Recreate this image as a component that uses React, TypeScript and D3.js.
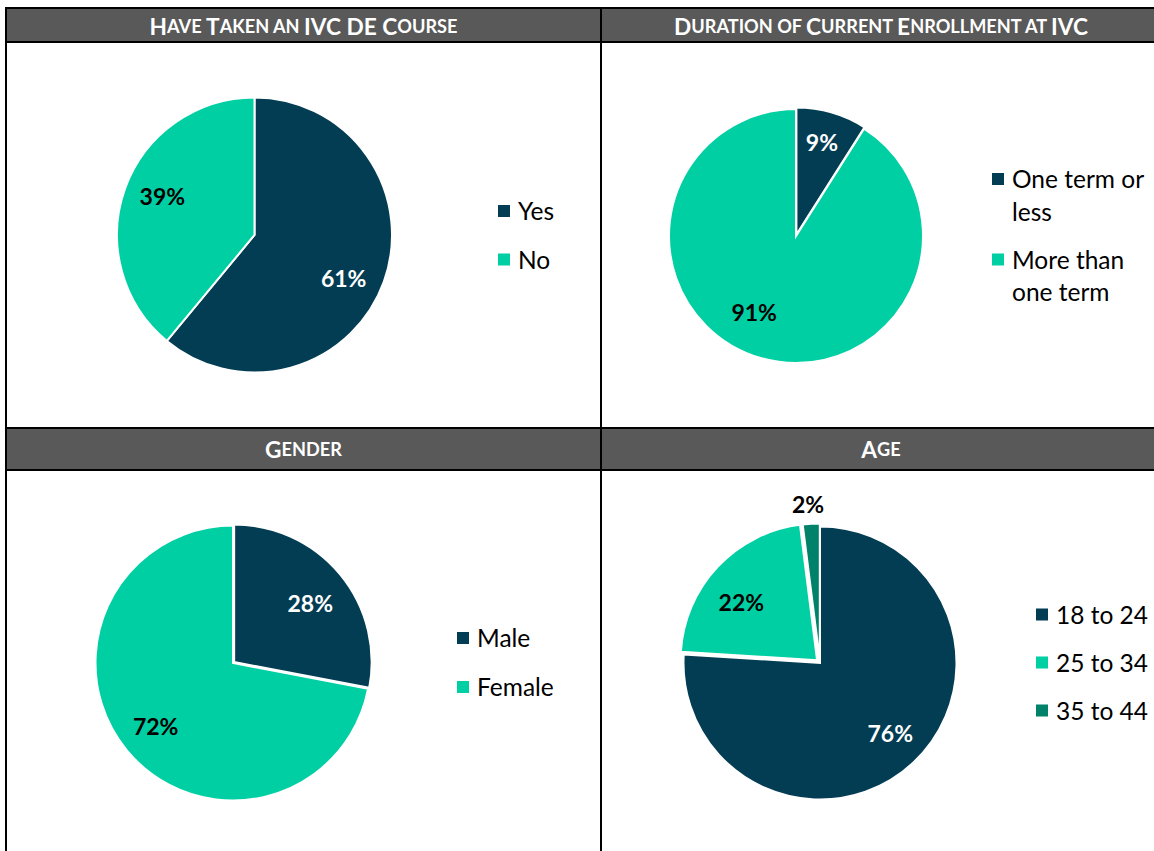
import React from "react";
import * as d3 from "d3";

// ---- Data ----
const titles = [
  "Have Taken an IVC DE Course",
  "Duration of Current Enrollment at IVC",
  "Gender",
  "Age",
];
const courseCategories = ["Yes", "No"];
const courseValues = [61, 39];
const durationCategories = ["One term or less", "More than one term"];
const durationLegendLines = [["One term or", "less"], ["More than", "one term"]];
const durationValues = [9, 91];
const genderCategories = ["Male", "Female"];
const genderValues = [28, 72];
const ageCategories = ["18 to 24", "25 to 34", "35 to 44"];
const ageValues = [76, 22, 2];

// ---- Styles ----
const NAVY = "#033d54";
const TEAL = "#00cfa3";
const GREEN = "#00826a";
const HEADER = "#595959";
const FONT = "Lato, 'Open Sans', sans-serif";

type PanelCfg = {
  title: string;
  categories: string[];
  legendLines: string[][];
  values: number[];
  colors: string[];
  labelColors: string[];
  cx: number;
  cy: number;
  r: number;
  explode: number[];
  labelFrac: number[];
  labelShift: number[][];
  legendX: number;
  legendY: number[];
};

const panels: PanelCfg[] = [
  {
    title: titles[0],
    categories: courseCategories,
    legendLines: courseCategories.map((c) => [c]),
    values: courseValues,
    colors: [NAVY, TEAL],
    labelColors: ["#fff", "#000"],
    cx: 254.5, cy: 235, r: 137.5,
    explode: [0, 0],
    labelFrac: [0.72, 0.72],
    labelShift: [[-4, 9], [1, -5]],
    legendX: 498, legendY: [211, 259.5],
  },
  {
    title: titles[1],
    categories: durationCategories,
    legendLines: durationLegendLines,
    values: durationValues,
    colors: [NAVY, TEAL],
    labelColors: ["#fff", "#000"],
    cx: 796, cy: 236, r: 127,
    explode: [1.5, 0],
    labelFrac: [0.76, 0.7],
    labelShift: [[-1, -1], [-17, -9]],
    legendX: 992, legendY: [179, 259.5],
  },
  {
    title: titles[2],
    categories: genderCategories,
    legendLines: genderCategories.map((c) => [c]),
    values: genderValues,
    colors: [NAVY, TEAL],
    labelColors: ["#fff", "#000"],
    cx: 233, cy: 663, r: 137.5,
    explode: [1.5, 0],
    labelFrac: [0.71, 0.73],
    labelShift: [[2, 2], [0, -1]],
    legendX: 457, legendY: [638, 687],
  },
  {
    title: titles[3],
    categories: ageCategories,
    legendLines: ageCategories.map((c) => [c]),
    values: ageValues,
    colors: [NAVY, TEAL, GREEN],
    labelColors: ["#fff", "#000", "#000"],
    cx: 820, cy: 663, r: 136.5,
    explode: [0, 4, 3],
    labelFrac: [0.72, 0.73, 1.16],
    labelShift: [[3, -2], [-6, 7], [-2, -1]],
    legendX: 1036, legendY: [614.5, 662.5, 710.5],
  },
];

function SmallCaps({ text, x, y, size }: { text: string; x: number; y: number; size: number }) {
  const parts: { t: string; big: boolean }[] = [];
  for (const ch of text) {
    const last = parts[parts.length - 1];
    const isBig = ch === " " ? (last ? last.big : true) : ch === ch.toUpperCase();
    if (last && last.big === isBig) last.t += ch.toUpperCase();
    else parts.push({ t: ch.toUpperCase(), big: isBig });
  }
  return (
    <text x={x} y={y} textAnchor="middle" dominantBaseline="central" fill="#fff"
      fontFamily={FONT} fontWeight={700} style={{ whiteSpace: "pre" }}>
      {parts.map((p, i) => (
        <tspan key={i} fontSize={p.big ? size : size * 0.8}>{p.t}</tspan>
      ))}
    </text>
  );
}

function PiePanel({ cfg }: { cfg: PanelCfg }) {
  const pie = d3.pie<number>().sort(null).value((d) => d);
  const arcs = pie(cfg.values);
  const arc = d3.arc<d3.PieArcDatum<number>>().innerRadius(0).outerRadius(cfg.r);
  const total = d3.sum(cfg.values);
  return (
    <g>
      {arcs.map((a, i) => {
        const mid = (a.startAngle + a.endAngle) / 2;
        const dx = Math.sin(mid) * cfg.explode[i];
        const dy = -Math.cos(mid) * cfg.explode[i];
        return (
          <path key={i} d={arc(a) || ""} transform={`translate(${cfg.cx + dx},${cfg.cy + dy})`}
            fill={cfg.colors[i]} stroke="#fff" strokeWidth={2} strokeLinejoin="miter" />
        );
      })}
      {arcs.map((a, i) => {
        const lr = cfg.r * cfg.labelFrac[i];
        const la = d3.arc<d3.PieArcDatum<number>>().innerRadius(lr).outerRadius(lr);
        const [lx, ly] = la.centroid(a);
        return (
          <text key={"l" + i} x={cfg.cx + lx + cfg.labelShift[i][0]} y={cfg.cy + ly + cfg.labelShift[i][1]}
            textAnchor="middle" dominantBaseline="central" fontFamily={FONT} fontWeight={700}
            fontSize={23} fill={cfg.labelColors[i]}>
            {`${Math.round((a.data / total) * 100)}%`}
          </text>
        );
      })}
      {cfg.legendLines.map((lines, i) => (
        <g key={"g" + i}>
          <rect x={cfg.legendX} y={cfg.legendY[i] - 6} width={12} height={12} fill={cfg.colors[i]} />
          {lines.map((ln, j) => (
            <text key={j} x={cfg.legendX + 20} y={cfg.legendY[i] + j * 32.5 - 0.5}
              dominantBaseline="central" fontFamily={FONT} fontSize={24.5} fill="#000">
              {ln}
            </text>
          ))}
        </g>
      ))}
    </g>
  );
}

export default function App() {
  const W = 1154, H = 851;
  const xL = 6, xM = 601, xR = 1161;
  const yT1 = 8, yH1 = 42, yT2 = 428, yH2 = 470;
  return (
    <svg width={W} height={H} style={{ position: "absolute", left: 0, top: 0, background: "#fff" }}>
      <rect x={0} y={0} width={W} height={H} fill="#fff" />
      <rect x={xL} y={yT1} width={xR - xL} height={yH1 - yT1} fill={HEADER} />
      <rect x={xL} y={yT2} width={xR - xL} height={yH2 - yT2} fill={HEADER} />
      <SmallCaps text={titles[0]} x={(xL + xM) / 2} y={(yT1 + yH1) / 2 + 1} size={22.7} />
      <SmallCaps text={titles[1]} x={(xM + xR) / 2} y={(yT1 + yH1) / 2 + 1} size={22.7} />
      <SmallCaps text={titles[2]} x={(xL + xM) / 2} y={(yT2 + yH2) / 2} size={22.7} />
      <SmallCaps text={titles[3]} x={(xM + xR) / 2} y={(yT2 + yH2) / 2} size={22.7} />
      {panels.map((p, i) => <PiePanel key={i} cfg={p} />)}
      <g stroke="#000" strokeWidth={2}>
        <line x1={xL - 1} x2={xR} y1={yT1} y2={yT1} />
        <line x1={xL} x2={xR} y1={yH1} y2={yH1} />
        <line x1={xL} x2={xR} y1={yT2} y2={yT2} />
        <line x1={xL} x2={xR} y1={yH2} y2={yH2} />
        <line x1={xL} x2={xL} y1={yT1} y2={H} />
        <line x1={xM} x2={xM} y1={yT1} y2={H} />
      </g>
    </svg>
  );
}
